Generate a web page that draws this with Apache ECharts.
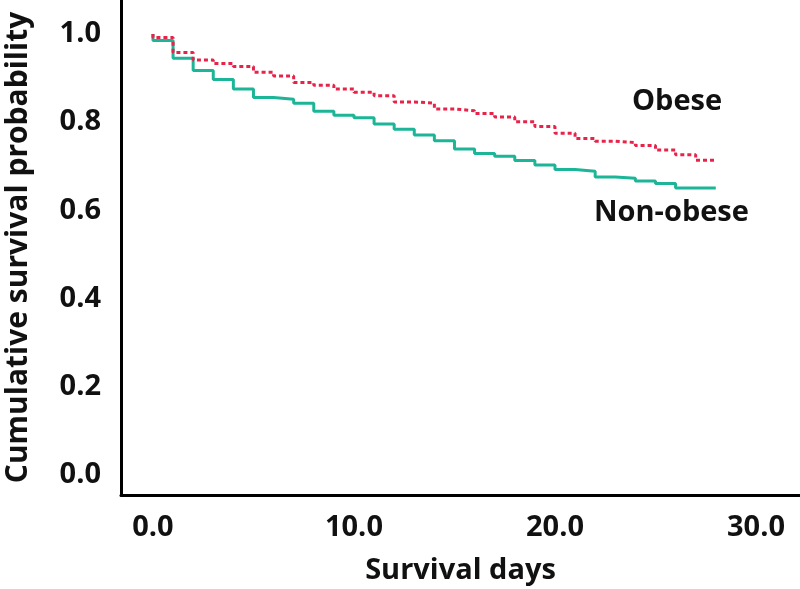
<!DOCTYPE html>
<html>
<head>
<meta charset="utf-8">
<script src="https://cdn.jsdelivr.net/npm/echarts@6/dist/echarts.min.js"></script>
<style>html,body{margin:0;padding:0;background:#fff}#c{width:800px;height:589px}</style>
</head>
<body>
<div id="c"></div>
<script>
// step days (x) and survival values after each step
var days = [0, 0, 1, 2, 3, 4, 5, 6, 7, 8, 9, 10, 11, 12, 13, 14, 15, 16, 17, 18, 19, 20, 21, 22, 23, 24, 25, 26, 27, 28];
var obese = [1.0, 0.992, 0.958, 0.941, 0.933, 0.926, 0.913, 0.905, 0.890, 0.884, 0.875, 0.868, 0.860, 0.846, 0.843, 0.830, 0.826, 0.820, 0.812, 0.801, 0.790, 0.775, 0.763, 0.757, 0.754, 0.747, 0.737, 0.726, 0.714, 0.714];
var nonObese = [1.0, 0.985, 0.945, 0.917, 0.897, 0.875, 0.856, 0.852, 0.843, 0.825, 0.816, 0.810, 0.796, 0.784, 0.771, 0.758, 0.739, 0.729, 0.723, 0.713, 0.703, 0.693, 0.689, 0.676, 0.673, 0.667, 0.661, 0.651, 0.651, 0.650];
var xTicks = [0, 10, 20, 30];
var yTicks = [0, 0.2, 0.4, 0.6, 0.8, 1.0];
var seriesNames = ['Obese', 'Non-obese'];

function zip(xs, ys) { return xs.map(function (x, i) { return [x, ys[i]]; }); }

var FONT = '"Open Sans", "Noto Sans", sans-serif';
var chart = echarts.init(document.getElementById('c'), null, { renderer: 'canvas' });
chart.setOption({
  animation: false,
  backgroundColor: '#fff',
  grid: { left: 121, right: 0, top: 0, bottom: 94, containLabel: false, outerBoundsMode: 'none' },
  xAxis: {
    type: 'value', min: -1.59, max: 32.19,
    name: 'Survival days', nameLocation: 'middle', nameGap: 61,
    nameTextStyle: { fontFamily: FONT, fontWeight: 'bold', fontSize: 29, color: '#111' },
    axisLine: { show: true, onZero: false, lineStyle: { color: '#000', width: 3 } },
    axisTick: { show: false },
    splitLine: { show: false },
    axisLabel: {
      customValues: xTicks, margin: 18,
      fontFamily: FONT, fontWeight: 'bold', fontSize: 29, color: '#111',
      formatter: function (v) { return v.toFixed(1); }
    }
  },
  yAxis: {
    type: 'value', min: -0.045, max: 1.077,
    name: 'Cumulative survival probability', nameLocation: 'middle', nameGap: 88, nameRotate: 90,
    nameTextStyle: { fontFamily: FONT, fontWeight: 'bold', fontSize: 30, color: '#111' },
    axisLine: { show: true, onZero: false, lineStyle: { color: '#000', width: 3 } },
    axisTick: { show: false },
    splitLine: { show: false },
    axisLabel: {
      customValues: yTicks, margin: 20,
      fontFamily: FONT, fontWeight: 'bold', fontSize: 29, color: '#111',
      formatter: function (v) { return v.toFixed(1); }
    }
  },
  series: [
    {
      name: seriesNames[1], type: 'line', step: 'end', symbol: 'none',
      data: zip(days, nonObese),
      lineStyle: { color: '#1db598', width: 3 }, z: 2
    },
    {
      name: seriesNames[0], type: 'line', step: 'end', symbol: 'none',
      data: zip(days, obese),
      lineStyle: { color: '#e8234a', width: 3, type: [4, 3] }, z: 3
    }
  ],
  graphic: [
    { type: 'text', left: 632, top: 87, style: { text: seriesNames[0], font: 'bold 29px ' + FONT, fill: '#111' } },
    { type: 'text', left: 594, top: 198, style: { text: seriesNames[1], font: 'bold 29px ' + FONT, fill: '#111' } }
  ]
});
</script>
</body>
</html>
